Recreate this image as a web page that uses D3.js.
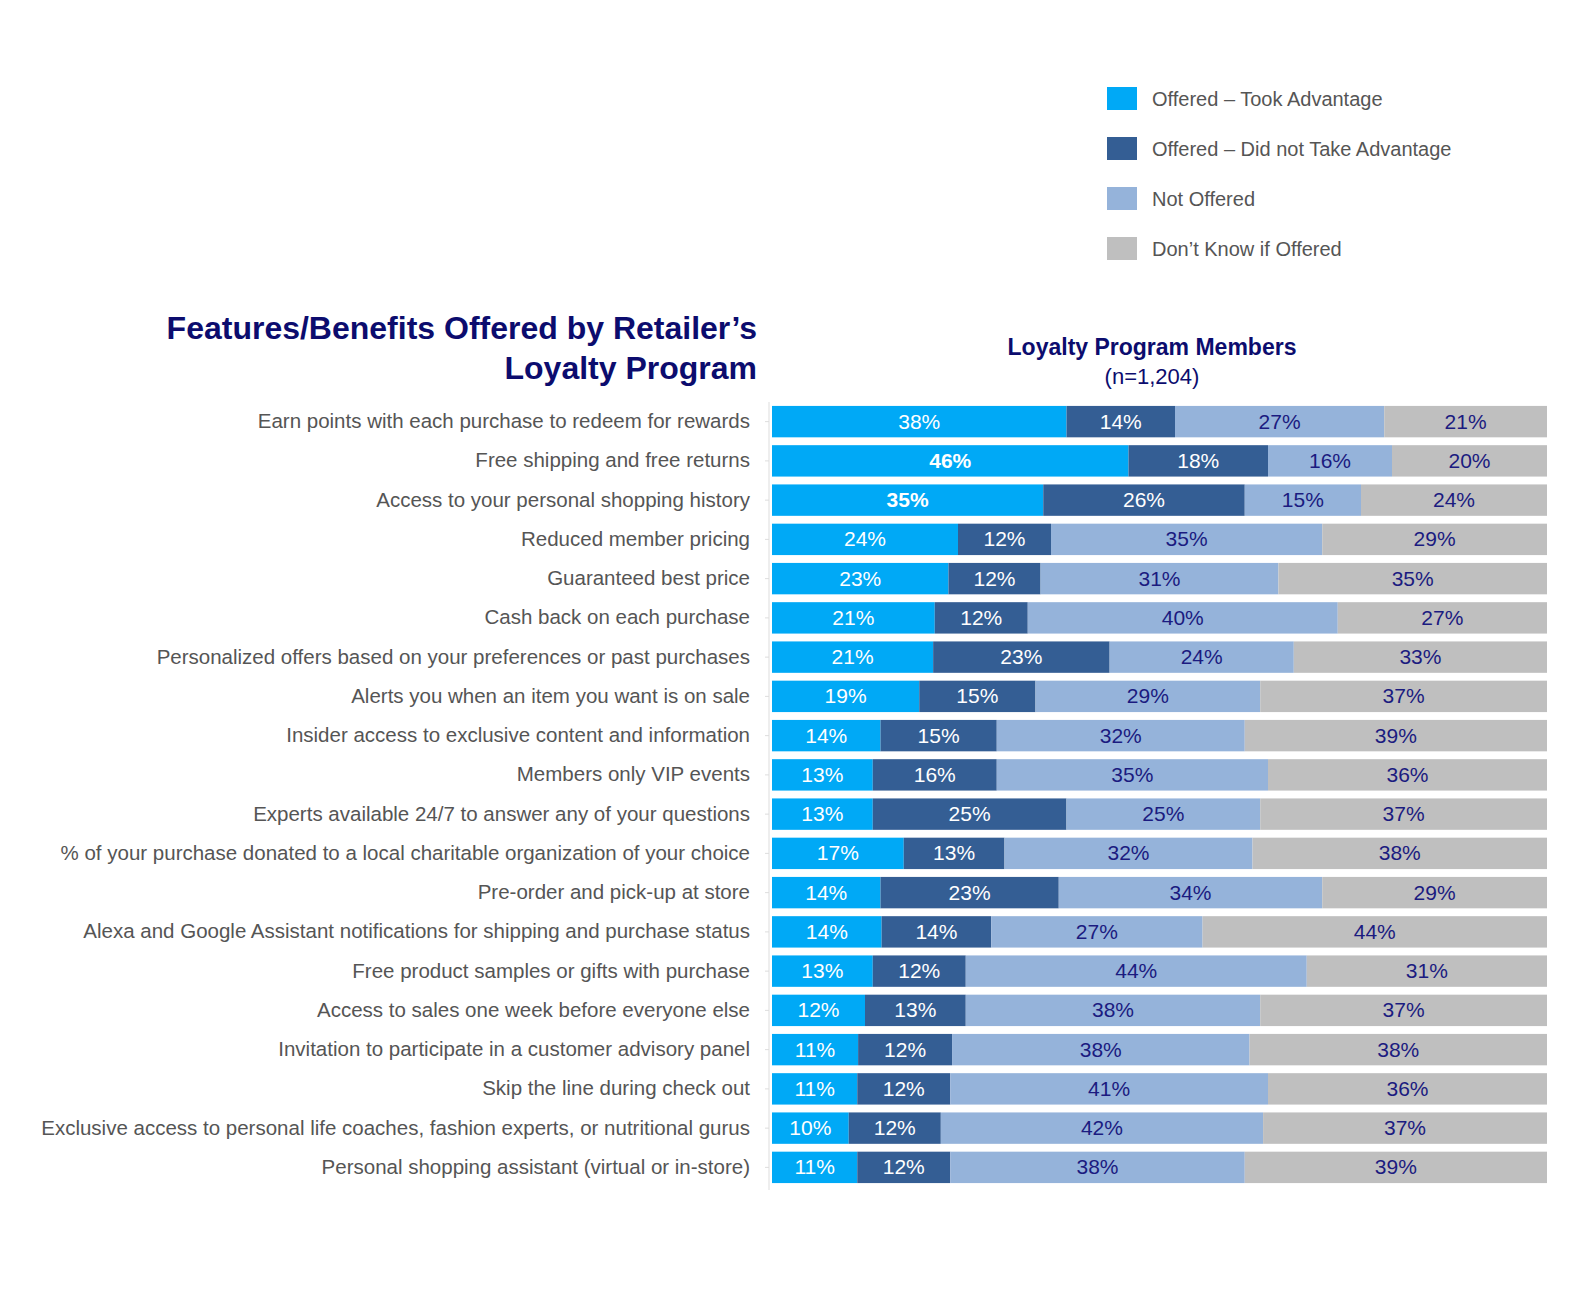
<!DOCTYPE html><html><head><meta charset="utf-8"><script src="https://cdn.jsdelivr.net/npm/d3@7"></script>
<style>body{margin:0;background:#fff}text{font-family:"Liberation Sans",Arial,sans-serif}</style></head><body><svg id="c" width="1581" height="1298"></svg><script>
const categories=["Earn points with each purchase to redeem for rewards","Free shipping and free returns","Access to your personal shopping history","Reduced member pricing","Guaranteed best price","Cash back on each purchase","Personalized offers based on your preferences or past purchases","Alerts you when an item you want is on sale","Insider access to exclusive content and information","Members only VIP events","Experts available 24/7 to answer any of your questions","% of your purchase donated to a local charitable organization of your choice","Pre-order and pick-up at store","Alexa and Google Assistant notifications for shipping and purchase status","Free product samples or gifts with purchase","Access to sales one week before everyone else","Invitation to participate in a customer advisory panel","Skip the line during check out","Exclusive access to personal life coaches, fashion experts, or nutritional gurus","Personal shopping assistant (virtual or in-store)"];
const seriesNames=["Offered – Took Advantage","Offered – Did not Take Advantage","Not Offered","Don’t Know if Offered"];
const tookAdvantage=[38,46,35,24,23,21,21,19,14,13,13,17,14,14,13,12,11,11,10,11];
const didNotTake=[14,18,26,12,12,12,23,15,15,16,25,13,23,14,12,13,12,12,12,12];
const notOffered=[27,16,15,35,31,40,24,29,32,35,25,32,34,27,44,38,38,41,42,38];
const dontKnow=[21,20,24,29,35,27,33,37,39,36,37,38,29,44,31,37,38,36,37,39];
const boldLabels=[[1,0],[2,0]];
const colors=["#00a9f6","#345e94","#95b3da","#bfbfbf"];
const labelColors=["#fff","#fff","#1b1b80","#1b1b80"];
const series=[tookAdvantage,didNotTake,notOffered,dontKnow];
const svg=d3.select("#c");
const x=d3.scaleLinear().domain([0,100]).range([772,1547]);
const y=d3.scaleBand().domain(categories).range([402,1187]).paddingInner(0.2).paddingOuter(0.1);
categories.forEach((c,i)=>{
  const vals=series.map(s=>s[i]);const tot=d3.sum(vals);let acc=0;
  vals.forEach((v,j)=>{
    const x0=x(acc/tot*100),x1=x((acc+v)/tot*100);acc+=v;
    svg.append("rect").attr("x",x0).attr("y",y(c)).attr("width",x1-x0).attr("height",y.bandwidth()).attr("fill",colors[j]);
    svg.append("text").attr("x",(x0+x1)/2).attr("y",y(c)+y.bandwidth()/2+7).attr("text-anchor","middle")
      .attr("font-size",21).attr("fill",labelColors[j]).attr("font-weight",boldLabels.some(b=>b[0]===i&&b[1]===j)?"bold":"normal").text(v+"%");
  });
});
svg.append("line").attr("x1",769).attr("x2",769).attr("y1",402).attr("y2",1190).attr("stroke","#ddd");
svg.append("g").attr("transform","translate(769,0)").call(d3.axisLeft(y).tickSize(4).tickPadding(15))
  .call(g=>{g.select(".domain").remove();g.selectAll("line").attr("stroke","#ddd");g.selectAll("text").attr("font-size",20.5).attr("fill","#555").attr("font-family","Liberation Sans,Arial,sans-serif");});
svg.append("text").attr("x",757).attr("y",339).attr("text-anchor","end").attr("font-size",32).attr("font-weight","bold").attr("fill","#0c0c6e").text("Features/Benefits Offered by Retailer’s");
svg.append("text").attr("x",757).attr("y",379).attr("text-anchor","end").attr("font-size",32).attr("font-weight","bold").attr("fill","#0c0c6e").text("Loyalty Program");
svg.append("text").attr("x",1152).attr("y",355).attr("text-anchor","middle").attr("font-size",23).attr("font-weight","bold").attr("fill","#0c0c6e").text("Loyalty Program Members");
svg.append("text").attr("x",1152).attr("y",384).attr("text-anchor","middle").attr("font-size",22).attr("fill","#0c0c6e").text("(n=1,204)");
seriesNames.forEach((n,j)=>{
  svg.append("rect").attr("x",1107).attr("y",87+j*50).attr("width",30).attr("height",23).attr("fill",colors[j]);
  svg.append("text").attr("x",1152).attr("y",106+j*50).attr("font-size",20).attr("fill","#555").text(n);
});
</script></body></html>
